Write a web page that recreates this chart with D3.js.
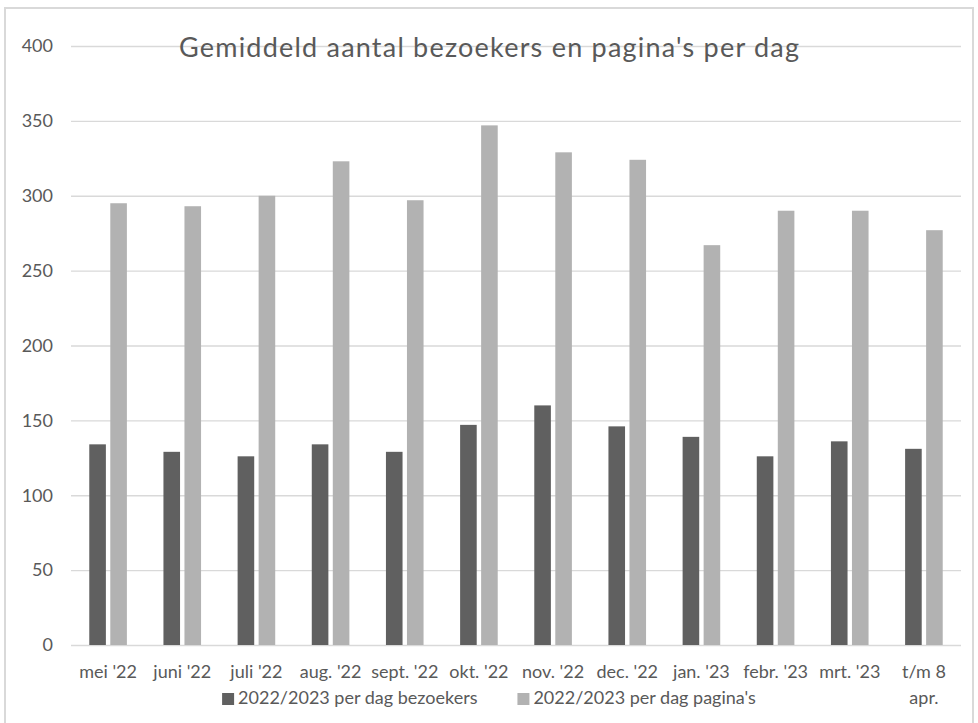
<!DOCTYPE html>
<html>
<head>
<meta charset="utf-8">
<script src="https://cdn.jsdelivr.net/npm/d3@7"></script>
<style>
    body { margin: 0; background: #fff; }
    svg { display: block; font-family: Lato, "Open Sans", sans-serif; }
</style>
</head>
<body>
<svg id="chart" width="978" height="723"></svg>
<script>
// Data
const months = ["mei '22", "juni '22", "juli '22", "aug. '22", "sept. '22", "okt. '22",
    "nov. '22", "dec. '22", "jan. '23", "febr. '23", "mrt. '23", "t/m 8 apr."];
const seriesNames = ["2022/2023 per dag bezoekers", "2022/2023 per dag pagina's"];
const bezoekers = [134, 129, 126, 134, 129, 147, 160, 146, 139, 126, 136, 131];
const paginas = [295, 293, 300, 323, 297, 347, 329, 324, 267, 290, 290, 277];
const yTicks = [0, 50, 100, 150, 200, 250, 300, 350, 400];
const colors = ["#606060", "#b2b2b2"];
const title = "Gemiddeld aantal bezoekers en pagina's per dag";

const width = 978, height = 723;
const margin = {top: 46, right: 17, bottom: 78, left: 71};
const fontFamily = "Lato, 'Open Sans', sans-serif";
const textColor = "#595959";
const gridColor = "#d9d9d9";

const svg = d3.select("#chart");

// outer chart border (bottom edge runs off the picture)
svg.append("rect")
    .attr("x", 5)
    .attr("y", 8)
    .attr("width", 968)
    .attr("height", 740)
    .attr("fill", "none")
    .attr("stroke", gridColor)
    .attr("stroke-width", 2);

const rows = months.map((m, i) => ({month: m, values: [bezoekers[i], paginas[i]]}));

const x0 = d3.scaleBand()
    .domain(months)
    .range([margin.left, width - margin.right]);

const x1 = d3.scaleBand()
    .domain(d3.range(seriesNames.length))
    .range([0, x0.bandwidth()])
    .paddingInner(0.21)
    .paddingOuter(0.87);

const y = d3.scaleLinear()
    .domain([0, 400])
    .range([height - margin.bottom, margin.top]);

// y axis with gridlines
const yAxis = svg.append("g")
    .attr("transform", "translate(" + margin.left + ",0)")
    .call(d3.axisLeft(y)
        .tickValues(yTicks)
        .tickSize(-(width - margin.left - margin.right))
        .tickPadding(18))
    .attr("font-family", fontFamily);

yAxis.select(".domain").remove();
yAxis.selectAll(".tick line")
    .attr("stroke", gridColor)
    .attr("stroke-width", 1.4);
yAxis.selectAll(".tick text")
    .attr("fill", textColor)
    .style("font-size", "18px");

// bars
const groups = svg.append("g")
    .selectAll("g")
    .data(rows)
    .enter()
    .append("g")
    .attr("transform", d => "translate(" + x0(d.month) + ",0)");

groups.selectAll("rect")
    .data(d => d.values)
    .enter()
    .append("rect")
    .attr("x", (d, i) => x1(i))
    .attr("y", d => y(d))
    .attr("width", x1.bandwidth())
    .attr("height", d => y(0) - y(d))
    .attr("fill", (d, i) => colors[i]);

// x axis labels, wrapped when wider than the category
const xAxis = svg.append("g")
    .attr("transform", "translate(0," + y(0) + ")")
    .call(d3.axisBottom(x0).tickSize(0).tickPadding(20))
    .attr("font-family", fontFamily);

xAxis.select(".domain").remove();
xAxis.selectAll(".tick text")
    .attr("fill", textColor)
    .style("font-size", "18px")
    .call(wrap, x0.bandwidth() - 2);

function wrap(text, maxWidth) {
    text.each(function () {
        let node = d3.select(this);
        let words = node.text().split(/\s+/);
        let yAttr = node.attr("y");
        let dy = parseFloat(node.attr("dy")) || 0;
        let line = [];
        let lineNo = 0;
        node.text(null);
        let tspan = node.append("tspan").attr("x", 0).attr("y", yAttr).attr("dy", dy + "em");
        for (let w of words) {
            line.push(w);
            tspan.text(line.join(" "));
            if (tspan.node().getComputedTextLength() > maxWidth && line.length > 1) {
                line.pop();
                tspan.text(line.join(" "));
                line = [w];
                lineNo++;
                tspan = node.append("tspan")
                    .attr("x", 0)
                    .attr("y", yAttr)
                    .attr("dy", (dy + lineNo * 1.45) + "em")
                    .text(w);
            }
        }
    });
}

// title
svg.append("text")
    .attr("x", width / 2)
    .attr("y", 57)
    .attr("text-anchor", "middle")
    .attr("fill", textColor)
    .style("font-size", "27px")
    .attr("textLength", 620)
    .attr("lengthAdjust", "spacing")
    .text(title);

// legend, centred under the plot
const legend = svg.append("g");
const legendItems = legend.selectAll("g")
    .data(seriesNames)
    .enter()
    .append("g");

legendItems.append("rect")
    .attr("width", 12)
    .attr("height", 12)
    .attr("y", -11)
    .attr("fill", (d, i) => colors[i]);

legendItems.append("text")
    .attr("x", 16)
    .attr("fill", textColor)
    .style("font-size", "18px")
    .text(d => d);

let offset = 0;
legendItems.each(function () {
    let item = d3.select(this);
    let w = item.select("text").node().getComputedTextLength() + 16;
    item.attr("transform", "translate(" + offset + ",0)");
    offset += w + 40;
});
offset -= 40;
legend.attr("transform", "translate(" + ((width - offset) / 2) + ",704)");
</script>
</body>
</html>
